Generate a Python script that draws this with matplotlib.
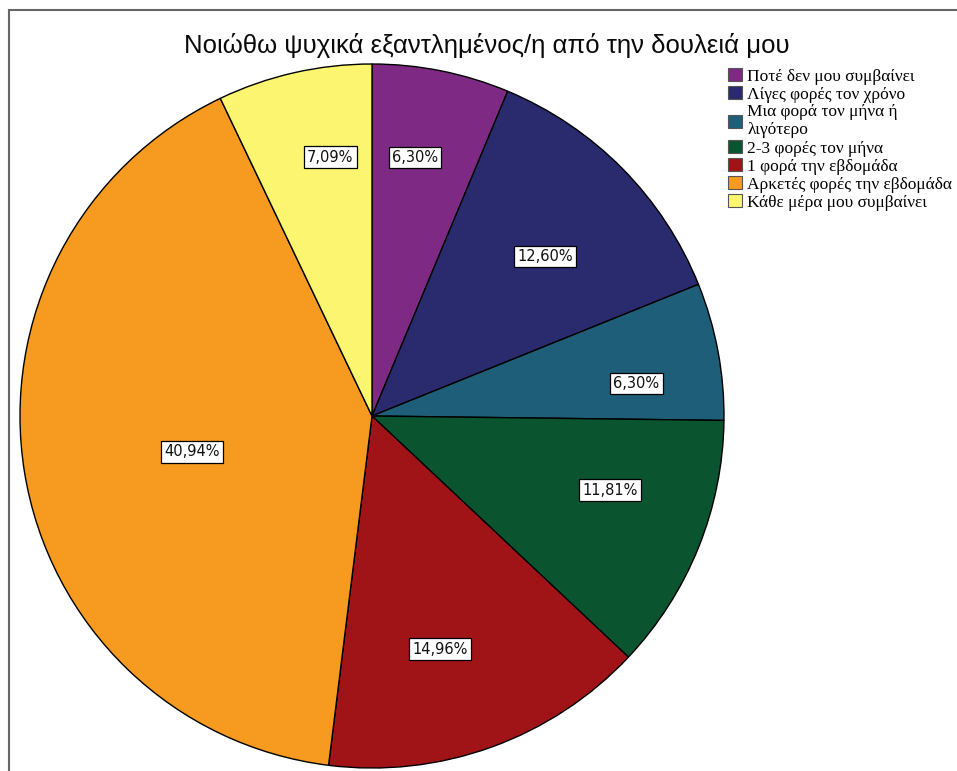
import numpy as np
import matplotlib.pyplot as plt
from matplotlib.patches import Rectangle

# responses to "Νοιώθω ψυχικά εξαντλημένος/η από την δουλειά μου"
categories = ["Ποτέ δεν μου συμβαίνει",
              "Λίγες φορές τον χρόνο",
              "Μια φορά τον μήνα ή\nλιγότερο",
              "2-3 φορές τον μήνα",
              "1 φορά την εβδομάδα",
              "Αρκετές φορές την εβδομάδα",
              "Κάθε μέρα μου συμβαίνει"]
percentages = [6.30, 12.60, 6.30, 11.81, 14.96, 40.94, 7.09]
colors = ["#7e2a85", "#2a2a6e", "#1f5e78", "#0b5430", "#a01418", "#f69a20", "#fbf570"]
# where each percentage box sits: fraction of radius, degrees off the slice middle
label_r = [0.745, 0.668, 0.757, 0.708, 0.69, 0.521, 0.745]
label_shift = [1.9, -2.0, -3.6, 4.7, -3.5, 2.1, -3.6]

W, H = 957, 771
fig = plt.figure(figsize=(W / 100, H / 100), dpi=100)
ax = fig.add_axes([0, 0, 1, 1])

# pie centre at (372, 416) px, radius 352 px
R = 352.0
cx, cy = 372.0, 416.0

wedges, _ = ax.pie(percentages, colors=colors, startangle=90, counterclock=False,
                   radius=1.0, wedgeprops=dict(edgecolor="black", linewidth=1.0))
ax.set_xlim(-cx / R, (W - cx) / R)
ax.set_ylim(-(H - cy) / R, cy / R)
ax.set_aspect("auto")
ax.axis("off")

for w, p, r, s in zip(wedges, percentages, label_r, label_shift):
    mid = np.deg2rad((w.theta1 + w.theta2) / 2 + s)
    ax.text(r * np.cos(mid), r * np.sin(mid), f"{p:.2f}%".replace(".", ","),
            ha="center", va="center", fontsize=10.5, family="DejaVu Sans",
            color="#111111",
            bbox=dict(boxstyle="square,pad=0.22", facecolor="white",
                      edgecolor="black", linewidth=0.9))

fig.text(487 / W, 1 - 45 / H, "Νοιώθω ψυχικά εξαντλημένος/η από την δουλειά μου",
         ha="center", va="center", fontsize=18.5, family="Liberation Sans",
         color="#0a0a0a")

leg = ax.legend(wedges, categories, loc="upper left",
                bbox_to_anchor=(721 / W, 1 - 61 / H), bbox_transform=fig.transFigure,
                frameon=False, handlelength=0.8, handleheight=0.8, handletextpad=0.3,
                labelspacing=0.08, borderaxespad=0,
                prop=dict(family="Liberation Serif", size=12.5))
for h in leg.legend_handles:
    h.set_edgecolor("#555555")
    h.set_linewidth(0.8)

# outer frame of the chart area
fig.patches.append(Rectangle((8.5 / W, -0.1), 1.2, (H - 10.5) / H + 0.1,
                             transform=fig.transFigure, fill=False,
                             edgecolor="#666666", linewidth=1.5, zorder=0))

fig.savefig("out.png", dpi=100, facecolor="white")
